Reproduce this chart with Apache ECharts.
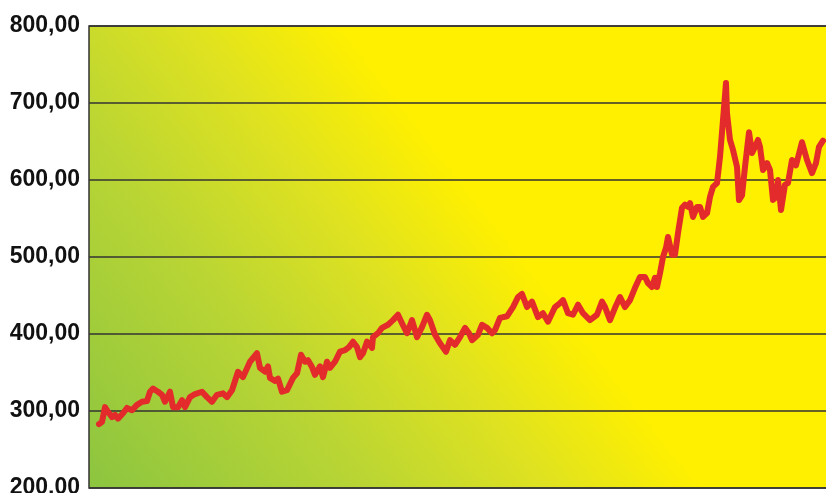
<!DOCTYPE html>
<html>
<head>
<meta charset="utf-8">
<script src="https://cdn.jsdelivr.net/npm/echarts@6/dist/echarts.min.js"></script>
<style>
	html, body { margin: 0; padding: 0; background: #fff; }
	#main { width: 826px; height: 493px; }
</style>
</head>
<body>
<div id="main"></div>
<script>
	// time position (arbitrary units along the x axis) and price
	var weeks = [10,13,16,19,23,26,29,34,38,43,48,53,58,61,64,69,73,76,81,84,89,93,96,101,106,113,118,123,128,134,
		138,143,149,154,161,168,171,176,179,181,186,189,193,198,204,208,212,216,219,223,226,231,234,238,241,246,251,256,260,
		264,268,271,274,278,283,284,289,293,299,304,309,313,318,323,328,333,338,341,346,351,357,361,366,371,376,380,
		383,389,393,398,403,406,411,418,424,429,433,438,443,449,454,459,466,471,474,479,484,489,494,501,508,513,516,
		521,526,531,536,541,546,551,556,559,563,566,568,571,574,577,579,583,586,589,593,596,599,601,604,608,611,614,
		618,621,624,628,631,634,637,638,641,644,648,650,653,656,660,663,666,669,671,674,678,681,684,687,689,692,696,
		699,703,707,713,718,723,727,730,734];
	var prices = [283,286,305,299,292,295,290,297,304,301,308,312,313,325,329,325,321,312,325,305,305,314,305,318,322,325,318,312,321,323,
		318,327,351,344,364,375,356,351,358,343,339,342,325,327,343,349,373,364,366,357,347,358,344,364,356,364,377,379,383,
		390,383,370,375,390,382,396,401,408,412,418,425,414,401,418,396,409,425,418,399,388,377,392,386,396,408,401,
		392,399,412,408,401,405,421,423,435,448,452,435,442,422,427,416,435,440,444,427,425,438,427,418,425,442,435,
		418,434,448,435,444,460,474,474,466,461,473,461,479,500,512,526,503,503,531,564,568,565,570,552,565,565,552,
		557,578,591,596,630,678,726,687,652,639,617,574,580,617,662,635,643,652,643,613,622,613,574,578,600,561,594,
		596,626,619,649,626,609,622,643,651];
	var yTicks = [200, 300, 400, 500, 600, 700, 800];

	var series = [];
	for (var i = 0; i < weeks.length; i++) {
		series.push([weeks[i], prices[i]]);
	}

	var myChart = echarts.init(document.getElementById('main'));
	var option = {
		animation: false,
		grid: {
			left: 89,
			top: 26,
			right: -2,
			bottom: 5,
			outerBoundsMode: 'none',
			containLabel: false,
			show: true,
			borderColor: '#333',
			borderWidth: 1.5,
			backgroundColor: new echarts.graphic.LinearGradient(89, 488, 470, 190, [
				{offset: 0, color: '#8cc540'},
				{offset: 0.45, color: '#b9d534'},
				{offset: 0.75, color: '#dfe220'},
				{offset: 1, color: '#fff000'}
			], true)
		},
		xAxis: {
			type: 'value',
			min: 0,
			max: 739,
			show: false
		},
		yAxis: {
			type: 'value',
			min: yTicks[0],
			max: yTicks[yTicks.length - 1],
			interval: 100,
			axisLine: {show: false},
			axisTick: {show: false},
			axisLabel: {
				margin: 9,
				fontFamily: '"Liberation Sans", Arial, sans-serif',
				fontWeight: 'bold',
				fontSize: 23,
				color: '#111',
				formatter: function (v) { return v.toFixed(2).replace('.', ','); }
			},
			splitLine: {lineStyle: {color: '#333', width: 1.5}}
		},
		series: [{
			type: 'line',
			data: series,
			showSymbol: false,
			lineStyle: {color: '#e42b2b', width: 6, cap: 'round', join: 'round'}
		}]
	};
	myChart.setOption(option);
</script>
</body>
</html>
